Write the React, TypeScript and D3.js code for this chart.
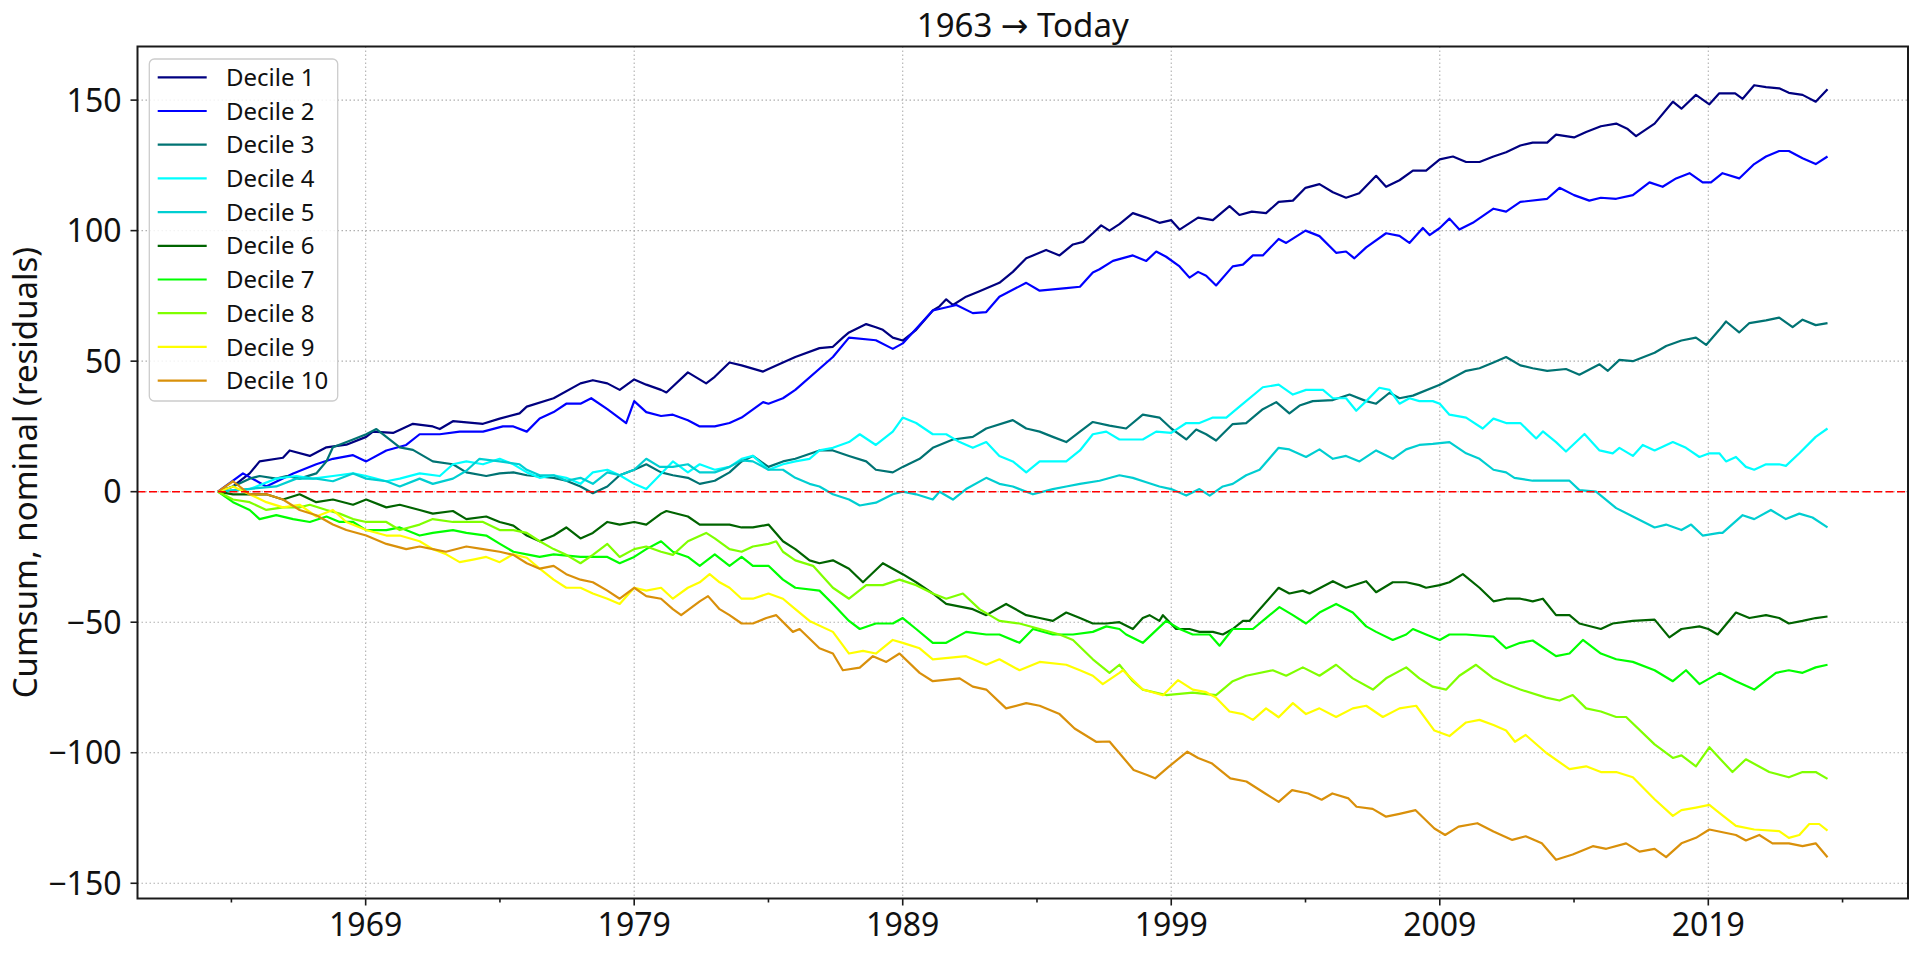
import * as d3 from "d3";

// readings, [year, cumsum]
const decile1 = [
  [1963.5, 0], [1964.06, 2], [1964.68, 7], [1965.05, 11.6], [1965.92, 13], [1966.17, 15.8], [1966.92, 13.7], [1967.54, 17], [1968.28, 18], [1969.02, 21], [1969.27, 23], [1970.02, 22.5], [1970.76, 26], [1971.5, 25], [1971.76, 24], [1972.25, 27], [1973.37, 26], [1973.99, 28], [1974.73, 30],
  [1975.0, 32.6], [1976.0, 35.8], [1977.0, 41.5], [1977.46, 42.7], [1978.0, 41.5], [1978.46, 39], [1979.0, 43], [1979.45, 41], [1980.0, 39], [1980.2, 38], [1981.0, 45.7], [1981.68, 41.5], [1982.0, 44], [1982.55, 49.5], [1983.0, 48.4], [1983.8, 46], [1984.0, 47], [1984.54, 49.5], [1985.0, 51.6],
  [1985.9, 55], [1986.4, 55.5], [1986.77, 59], [1987.0, 61], [1987.64, 64.2], [1988.0, 63], [1988.26, 62], [1988.63, 59], [1989.0, 57.9], [1989.5, 62], [1990.12, 69.4], [1990.37, 71], [1990.62, 73.7], [1990.87, 71.5], [1991.36, 74.7], [1991.86, 76.8], [1992.6, 80], [1993.1, 84.2], [1993.6, 89.4], [1993.85, 90.5], [1994.34, 92.6], [1994.84, 90.5], [1995.34, 94.7], [1995.72, 95.7], [1996.08, 99], [1996.39, 102], [1996.7, 100], [1997.07, 102.5],
  [1997.57, 106.7], [1998.07, 105], [1998.56, 103], [1999.0, 104], [1999.31, 100.4], [2000.0, 105], [2000.55, 104], [2001.17, 109.4], [2001.54, 106], [2002.0, 107.3], [2002.53, 106.7], [2003.0, 111], [2003.53, 111.5], [2004.0, 116.4], [2004.52, 117.8], [2005.02, 114.7], [2005.51, 112.6], [2006.0, 114.3], [2006.63, 121], [2007.0, 116.8], [2007.5, 119.3], [2008.0, 123],
  [2008.49, 123], [2009.0, 127.3], [2009.49, 128.4], [2009.98, 126.3], [2010.48, 126.3], [2011.0, 128.4], [2011.47, 130], [2012.0, 132.6], [2012.46, 133.7], [2013.0, 133.7], [2013.33, 136.8], [2014.0, 135.7], [2014.45, 137.8], [2015.0, 140], [2015.57, 141], [2016.0, 138.9], [2016.31, 136.2], [2017.0, 141], [2017.68, 149.4], [2018.0, 146.7], [2018.54, 152], [2019.04, 148.4],
  [2019.41, 152.6], [2020.0, 152.6], [2020.28, 150.5], [2020.71, 155.7], [2021.15, 155], [2021.64, 154.5], [2022.0, 152.8], [2022.51, 152], [2023.0, 149.4], [2023.44, 154.2],
];
const decile2 = [
  [1963.5, 0], [1964.43, 7], [1965.3, 2], [1966.3, 7], [1967.16, 10.5], [1967.78, 12.6], [1968.53, 14], [1969.02, 11.6], [1969.77, 15.8], [1970.51, 17.9], [1971.01, 22], [1971.76, 22], [1972.5, 23], [1973.37, 23], [1974.11, 25], [1974.5, 25],
  [1975.0, 23], [1975.48, 28], [1976.0, 30.5], [1976.47, 33.7], [1977.0, 33.7], [1977.4, 35.8], [1978.0, 31.6], [1978.7, 26.3], [1979.0, 34.7], [1979.45, 30.5], [1980.0, 29], [1980.44, 29.5], [1981.0, 27.4], [1981.44, 25], [1982.0, 25], [1982.55, 26.3], [1983.0, 28.4], [1983.8, 34.3], [1984.0, 33.7], [1984.54, 35.8], [1985.0, 39],
  [1986.4, 51.6], [1987.0, 59], [1988.0, 58], [1988.63, 54.7], [1989.0, 56.8], [1990.12, 69.4], [1991.0, 71.5], [1991.61, 68.4], [1992.11, 68.8], [1992.6, 74.7], [1993.6, 80], [1994.1, 77], [1995.09, 78], [1995.6, 78.5], [1996.08, 84], [1996.33, 85.2], [1996.83, 88.4],
  [1997.57, 90.5], [1998.07, 88.4], [1998.44, 92], [1998.81, 90], [1999.31, 86.3], [1999.68, 82], [2000.0, 84.2], [2000.3, 82.7], [2000.67, 79], [2001.29, 86.3], [2001.67, 87], [2002.04, 90.5], [2002.41, 90.5], [2003.0, 96.8], [2003.28, 95.3], [2004.0, 100], [2004.52, 97.9], [2005.14, 91.5], [2005.51, 92], [2005.82, 89.4], [2006.26, 93.6], [2007.0, 99], [2007.5, 98], [2007.87, 95.3],
  [2008.37, 101], [2008.62, 98.3], [2009.0, 101], [2009.36, 104.6], [2009.73, 100.4], [2010.23, 103], [2011.0, 108.4], [2011.47, 107.3], [2012.0, 111], [2013.0, 112.2], [2013.46, 116.4], [2014.0, 113.6], [2014.57, 111.5], [2015.0, 112.6], [2015.57, 112.2], [2016.19, 113.6], [2016.81, 118.5], [2017.3, 116.8], [2017.8, 120], [2018.3, 122], [2018.79, 118.5], [2019.1, 118.5],
  [2019.53, 122], [2020.15, 120], [2020.71, 125.5], [2021.15, 128.4], [2021.64, 130.5], [2022.0, 130.5], [2022.51, 127.7], [2023.0, 125.5], [2023.44, 128.4],
];
const decile3 = [
  [1963.5, 0], [1964.06, 2], [1964.68, 5], [1965.05, 6], [1965.67, 5], [1966.05, 6], [1966.54, 5], [1967.16, 7], [1967.54, 11.6], [1967.78, 17], [1968.53, 20], [1969.02, 22], [1969.4, 24], [1970.27, 17], [1970.76, 16], [1971.5, 11.6], [1972.25, 10.5], [1972.75, 7.4], [1973.49, 6], [1973.99, 7], [1974.5, 7.4],
  [1975.0, 6.3], [1976.0, 5.3], [1976.47, 4.2], [1977.0, 2], [1977.46, -0.6], [1978.0, 2], [1978.46, 6.3], [1979.0, 8.4], [1979.45, 10.5], [1980.0, 7.4], [1980.44, 6.3], [1981.0, 5.3], [1981.44, 3], [1982.0, 4.2], [1982.55, 7.4], [1983.0, 11.6], [1983.42, 13.7], [1984.0, 9.5], [1984.54, 11.6], [1985.0, 12.6],
  [1985.9, 15.8], [1986.4, 15.8], [1987.0, 13.7], [1987.64, 11.6], [1988.0, 8.4], [1988.63, 7.4], [1989.0, 9.5], [1989.63, 12.6], [1990.12, 16.8], [1990.87, 20], [1991.61, 21], [1992.11, 24.2], [1993.1, 27.4], [1993.6, 24.2], [1994.1, 23], [1994.59, 21], [1995.09, 19], [1995.6, 23], [1996.08, 26.7], [1996.7, 25.3],
  [1997.32, 24.2], [1997.94, 29.5], [1998.56, 28.4], [1999.0, 24.2], [1999.56, 20], [1999.93, 23.8], [2000.3, 22], [2000.67, 19.6], [2001.29, 25.9], [2001.79, 26.3], [2002.41, 31.6], [2002.91, 34.3], [2003.4, 30], [2003.78, 33], [2004.27, 34.7], [2005.02, 35.1], [2005.64, 37.2], [2006.26, 34.7], [2006.63, 33.7], [2007.13, 37.9], [2007.5, 35.8], [2008.0, 36.8],
  [2009.0, 41], [2009.98, 46.3], [2010.48, 47.3], [2011.0, 49.5], [2011.47, 51.6], [2012.0, 48.4], [2012.46, 47.3], [2013.0, 46.3], [2013.7, 47], [2014.2, 44.8], [2014.95, 48.8], [2015.26, 46.3], [2015.69, 50.5], [2016.19, 50], [2017.0, 53.2], [2017.43, 55.8], [2018.0, 57.9], [2018.54, 59], [2018.92, 56.2], [2019.41, 62],
  [2019.66, 65.2], [2020.15, 61], [2020.53, 64.6], [2021.15, 65.6], [2021.64, 66.7], [2022.14, 63], [2022.51, 65.9], [2023.0, 63.8], [2023.44, 64.6],
];
const decile4 = [
  [1963.5, 0], [1964.68, 1], [1965.67, 5], [1966.42, 6], [1967.04, 5], [1967.78, 6], [1968.53, 7], [1969.02, 6], [1969.77, 4], [1970.27, 5], [1971.01, 7], [1971.76, 6], [1972.25, 10.5], [1972.75, 11.6], [1973.37, 10.5], [1973.99, 12.6],
  [1974.5, 10.5], [1975.0, 7.4], [1975.48, 5.3], [1976.0, 6.3], [1976.47, 5.3], [1977.0, 3], [1977.46, 7.4], [1978.0, 8.4], [1978.46, 6.3], [1979.0, 3], [1979.45, 1], [1979.95, 6.3], [1980.44, 11.6], [1981.0, 7.4], [1981.44, 10.5], [1982.0, 8.4], [1982.55, 9.5], [1983.0, 12.6], [1983.42, 13.7], [1984.0, 8.4], [1984.54, 10.5], [1985.0, 11.6], [1985.53, 12.6],
  [1985.9, 15.8], [1986.4, 16.8], [1987.0, 19], [1987.4, 22], [1988.0, 17.9], [1988.63, 23], [1989.0, 28.4], [1989.5, 26.3], [1990.12, 22], [1990.62, 22], [1991.12, 19], [1991.61, 16.8], [1992.11, 19], [1992.6, 13.7], [1993.1, 11.6], [1993.6, 7.4], [1994.1, 11.6], [1994.59, 11.6], [1995.09, 11.6], [1995.6, 15.8], [1996.08, 22], [1996.58, 23], [1997.07, 20],
  [1997.94, 20], [1998.44, 23], [1999.0, 22.5], [1999.56, 26.3], [2000.05, 26.3], [2000.55, 28.4], [2001.05, 28.4], [2001.54, 32.6], [2002.41, 40], [2003.0, 41], [2003.53, 37.2], [2004.02, 39], [2004.65, 39], [2005.02, 35.8], [2005.51, 35.8], [2005.89, 31], [2006.26, 34.7], [2006.75, 39.8], [2007.13, 39], [2007.5, 33.7], [2007.87, 35.8], [2008.24, 34.7],
  [2008.74, 34.7], [2009.0, 33.7], [2009.36, 29.5], [2009.98, 28.4], [2010.6, 24.2], [2011.0, 28], [2011.47, 26.3], [2012.0, 26.3], [2012.59, 20.4], [2012.84, 23.1], [2013.33, 19], [2013.7, 15.4], [2014.39, 22.1], [2014.95, 15.8], [2015.44, 14.7], [2015.69, 16.8], [2016.19, 13.7], [2016.56, 17.9], [2017.0, 15.8], [2017.68, 19], [2018.17, 16.8], [2018.67, 13.3], [2019.04, 14.7], [2019.41, 14.7],
  [2019.66, 11.6], [2020.03, 13.3], [2020.4, 9.5], [2020.71, 8.4], [2021.15, 10.5], [2021.64, 10.5], [2021.89, 9.9], [2022.39, 14.7], [2023.0, 21], [2023.44, 24.2],
];
const decile5 = [
  [1963.5, 0], [1965.67, 2], [1966.42, 5], [1967.16, 5], [1967.78, 4], [1968.53, 7], [1969.02, 5], [1969.77, 4], [1970.27, 2], [1971.01, 5], [1971.5, 3], [1972.25, 5], [1972.75, 8], [1973.24, 12.6], [1973.99, 11.6], [1974.73, 10.5],
  [1975.0, 8.4], [1975.48, 6.3], [1976.0, 6.3], [1976.47, 4.2], [1977.0, 5.3], [1977.46, 3], [1978.0, 7.4], [1978.46, 6.3], [1979.0, 8.4], [1979.45, 12.6], [1979.95, 9.5], [1980.44, 9.5], [1981.0, 10.5], [1981.44, 7.4], [1982.0, 7.4], [1982.55, 9.5], [1983.0, 12], [1983.42, 11.6], [1984.0, 8.4], [1984.54, 8.4], [1985.0, 5.3], [1985.53, 3],
  [1985.9, 2], [1986.4, -1], [1987.0, -3], [1987.4, -5.3], [1988.0, -4.2], [1988.63, -1], [1989.0, 0], [1989.5, -1], [1990.12, -3], [1990.37, 0], [1990.87, -3], [1991.36, 1], [1992.11, 5.3], [1992.6, 3], [1993.1, 2], [1993.85, -1], [1994.59, 1], [1995.09, 2], [1995.6, 3], [1996.33, 4.2], [1997.07, 6.3],
  [1997.57, 5.3], [1998.07, 3.6], [1998.56, 2], [1999.0, 1], [1999.56, -1.5], [2000.05, 1], [2000.43, -1.5], [2000.92, 2], [2001.29, 3], [2001.79, 6.3], [2002.29, 8.4], [2003.0, 16.8], [2003.4, 16.2], [2004.02, 13.3], [2004.52, 16.2], [2005.02, 12.6], [2005.51, 13.7], [2006.01, 11.6], [2006.63, 15.8], [2007.25, 12.6], [2007.75, 16.2], [2008.24, 17.9],
  [2008.74, 18.3], [2009.36, 19], [2009.98, 14.7], [2010.48, 12.6], [2011.0, 8.4], [2011.47, 7.4], [2011.78, 5.3], [2012.46, 4.2], [2013.0, 4.2], [2013.83, 4.2], [2014.2, 0.6], [2014.82, 0], [2015.57, -6.3], [2016.19, -9.5], [2017.0, -13.7], [2017.43, -12.6], [2018.0, -14.7], [2018.36, -12.6], [2018.79, -16.8], [2019.41, -15.8],
  [2019.53, -15.8], [2020.28, -9], [2020.71, -10.5], [2021.33, -7], [2021.89, -10.5], [2022.39, -8.4], [2022.88, -9.9], [2023.44, -13.7],
];
const decile6 = [
  [1963.5, 0], [1964.06, -1], [1965.3, -1], [1965.92, -3], [1966.54, -1], [1967.16, -4], [1967.78, -3], [1968.53, -5], [1969.02, -3], [1969.77, -6], [1970.27, -5], [1971.01, -7], [1971.5, -8.4], [1972.25, -7.4], [1972.75, -10.5], [1973.49, -9.5], [1973.99, -11.6], [1974.5, -13],
  [1975.0, -16.8], [1975.48, -19], [1976.0, -16.8], [1976.47, -13.7], [1977.0, -17.9], [1977.46, -15.8], [1978.0, -11.6], [1978.46, -12.6], [1979.0, -11.6], [1979.45, -12.6], [1980.0, -8.4], [1980.2, -7.4], [1981.0, -9.5], [1981.44, -12.6], [1982.0, -12.6], [1982.55, -12.6], [1983.0, -13.7], [1983.42, -13.7], [1984.0, -12.6], [1984.54, -19], [1985.0, -22], [1985.53, -26.3], [1985.9, -27.4],
  [1986.4, -26.3], [1987.0, -29.5], [1987.52, -34.7], [1988.26, -27.4], [1989.0, -31.6], [1989.5, -34.7], [1990.12, -39], [1990.62, -43], [1991.61, -45], [1992.11, -47.3], [1992.85, -43], [1993.6, -47.3], [1994.1, -48.4], [1994.59, -49.5], [1995.09, -46.3], [1995.6, -48.4], [1996.08, -50.5], [1996.58, -50.5], [1997.07, -50],
  [1997.57, -52.6], [1997.94, -48.4], [1998.19, -47.3], [1998.56, -49.5], [1998.69, -47.3], [1999.18, -52.6], [1999.68, -52.6], [2000.05, -53.7], [2000.55, -53.7], [2000.92, -54.7], [2001.29, -52.6], [2001.67, -49.5], [2001.91, -49.5], [2003.0, -36.8], [2003.4, -39], [2003.9, -37.9], [2004.15, -39], [2005.02, -34.3], [2005.51, -36.8], [2006.26, -34.3], [2006.63, -38.5], [2007.25, -34.7], [2007.75, -34.7], [2008.24, -35.8],
  [2008.49, -36.8], [2009.0, -35.8], [2009.36, -34.7], [2009.86, -31.6], [2010.48, -36.8], [2011.0, -42], [2011.47, -41], [2012.0, -41], [2012.46, -42], [2012.84, -41], [2013.33, -47.3], [2013.83, -47.3], [2014.2, -50.5], [2015.0, -52.6], [2015.44, -50.5], [2016.19, -49.5], [2017.0, -49], [2017.55, -55.8], [2018.0, -52.6], [2018.67, -51.6], [2019.0, -52.6], [2019.35, -54.7],
  [2020.03, -46.3], [2020.53, -48.4], [2021.15, -47.3], [2021.64, -48.4], [2022.0, -50.5], [2022.51, -49.5], [2023.0, -48.4], [2023.44, -47.8],
];
const decile7 = [
  [1963.5, 0], [1964.06, -4], [1964.68, -7], [1965.05, -10.5], [1965.67, -9], [1966.3, -10.5], [1966.92, -11.6], [1967.54, -9.5], [1968.03, -11.6], [1968.53, -11.6], [1969.02, -14.7], [1969.77, -14.7], [1970.27, -13.7], [1971.01, -16.8], [1971.5, -15.8], [1972.25, -14.7], [1972.75, -15.8], [1973.49, -16.8],
  [1974.0, -20], [1974.5, -23], [1975.0, -24], [1975.48, -25], [1976.0, -24], [1977.0, -25], [1978.0, -25], [1978.46, -27.4], [1979.0, -25], [1979.45, -22], [1980.0, -19], [1980.44, -23], [1981.0, -25], [1981.44, -28.4], [1982.0, -24], [1982.55, -28.4], [1983.0, -25], [1983.42, -28.4], [1984.0, -28.4], [1984.54, -33.7], [1985.0, -36.8],
  [1985.9, -37.9], [1986.4, -43], [1987.0, -49.5], [1987.4, -52.6], [1988.0, -50.5], [1988.63, -50.5], [1989.0, -48.4], [1989.5, -52.6], [1990.12, -57.9], [1990.62, -57.9], [1991.36, -53.7], [1992.11, -54.7], [1992.6, -54.7], [1993.35, -57.9], [1993.85, -52.6], [1994.59, -54.7], [1995.34, -54.7], [1996.08, -53.7], [1996.58, -51.6], [1997.07, -52.6],
  [1997.32, -54.7], [1997.94, -57.9], [1998.81, -49.5], [1999.31, -52.6], [1999.8, -54.7], [2000.43, -54.7], [2000.8, -59], [2001.29, -52.6], [2002.04, -52.6], [2002.53, -48.4], [2003.03, -44.2], [2003.53, -47.3], [2004.02, -50.5], [2004.52, -46.3], [2005.14, -43], [2005.76, -46.3], [2006.26, -51.6], [2006.63, -53.7], [2007.25, -56.8], [2007.75, -54.7], [2008.0, -52.6],
  [2008.49, -54.7], [2009.0, -56.8], [2009.36, -54.7], [2009.98, -54.7], [2011.0, -55.5], [2011.47, -60], [2012.0, -57.9], [2012.46, -57], [2013.33, -63], [2013.83, -62], [2014.33, -56.8], [2015.0, -62], [2015.57, -64.2], [2016.19, -65.2], [2017.0, -68.4], [2017.68, -72.6], [2018.17, -68.4], [2018.67, -73.7], [2019.41, -69.4],
  [2020.03, -72.6], [2020.71, -75.8], [2021.52, -69.4], [2022.0, -68.4], [2022.51, -69.4], [2023.0, -67.3], [2023.44, -66.3],
];
const decile8 = [
  [1963.5, 0], [1964.06, -3], [1964.68, -4], [1965.3, -7], [1965.92, -6], [1966.54, -6], [1966.92, -5], [1967.54, -7], [1968.03, -8.4], [1968.53, -10.5], [1969.02, -11.6], [1969.77, -11.6], [1970.27, -14.7], [1971.01, -12.6], [1971.5, -10.5], [1972.25, -11.6], [1972.75, -11.6], [1973.37, -11.6], [1973.99, -14.7],
  [1974.5, -14.7], [1975.0, -15.8], [1975.48, -19], [1976.0, -22], [1976.47, -24.2], [1977.0, -27.4], [1977.46, -24.2], [1978.0, -20], [1978.46, -25], [1979.0, -22], [1979.45, -21], [1980.0, -23], [1980.44, -24.2], [1981.0, -19], [1981.68, -15.8], [1982.0, -17.9], [1982.55, -22], [1983.0, -23], [1983.42, -21], [1984.0, -20], [1984.29, -19], [1984.54, -23], [1985.0, -26.3],
  [1985.66, -28.4], [1986.4, -36.8], [1987.0, -41], [1987.64, -35.8], [1988.26, -35.8], [1988.88, -33.7], [1989.5, -35.8], [1990.12, -39], [1990.62, -41], [1991.24, -39], [1991.86, -45], [1992.6, -49.5], [1993.35, -50.5], [1994.1, -52.6], [1994.84, -54.7], [1995.34, -56.8], [1996.08, -64.2], [1996.7, -69.4], [1997.07, -66.3],
  [1997.57, -72.6], [1997.94, -75.8], [1998.81, -77.9], [1999.8, -77], [2000.67, -77.9], [2001.29, -72.6], [2001.79, -70.5], [2002.78, -68.4], [2003.28, -70.5], [2003.9, -67.3], [2004.52, -70.5], [2005.14, -66.3], [2005.76, -71.5], [2006.51, -75.8], [2007.0, -71.5], [2007.75, -67.3], [2008.24, -71.5],
  [2008.74, -74.7], [2009.24, -75.8], [2009.73, -70.5], [2010.35, -66.3], [2011.0, -71.5], [2011.47, -73.7], [2012.0, -75.8], [2012.96, -78.9], [2013.46, -80], [2013.95, -77.9], [2014.45, -83], [2015.0, -84.2], [2015.57, -86.3], [2015.94, -86.3], [2017.0, -96.8], [2017.68, -102], [2018.0, -101], [2018.54, -105.2], [2019.04, -97.9], [2019.41, -102],
  [2019.9, -107.4], [2020.4, -102.5], [2021.27, -107.4], [2022.0, -109.4], [2022.51, -107.4], [2023.0, -107.4], [2023.44, -110],
];
const decile9 = [
  [1963.5, 0], [1964.06, 2], [1964.68, -1], [1965.3, -4], [1965.92, -6], [1966.54, -5], [1967.16, -9.5], [1967.78, -7], [1968.28, -11.6], [1969.02, -14.7], [1969.77, -16.8], [1970.27, -16.8], [1971.01, -19], [1971.5, -22], [1972.0, -24], [1972.5, -27], [1973.0, -26], [1973.49, -25], [1973.99, -27], [1974.49, -24],
  [1975.0, -25.3], [1975.48, -29.5], [1976.0, -33.7], [1976.47, -36.8], [1977.0, -36.8], [1977.46, -39], [1978.0, -41], [1978.46, -43], [1979.0, -36.8], [1979.45, -37.9], [1980.0, -36.8], [1980.44, -41], [1981.0, -36.8], [1981.44, -34.7], [1981.81, -31.6], [1982.18, -34.7], [1982.55, -36.8], [1983.0, -41], [1983.42, -41], [1984.0, -39], [1984.54, -41], [1985.0, -45], [1985.53, -49.5],
  [1986.4, -53.7], [1987.0, -62], [1987.52, -61], [1988.0, -62], [1988.63, -56.8], [1989.0, -57.9], [1989.63, -60], [1990.12, -64.2], [1991.36, -63], [1992.11, -66.3], [1992.6, -64.2], [1993.35, -68.4], [1994.1, -65.2], [1995.09, -66.3], [1995.6, -68.4], [1996.08, -70.5], [1996.45, -73.7], [1997.07, -69.4],
  [1997.2, -68.4], [1997.94, -75.8], [1998.69, -78], [1999.25, -72.2], [1999.8, -75.8], [2000.3, -76.8], [2000.67, -78.9], [2001.17, -84.2], [2001.67, -85.2], [2002.04, -87.4], [2002.53, -83], [2003.0, -86.4], [2003.53, -81], [2004.02, -85.2], [2004.52, -83], [2005.14, -86.3], [2005.76, -83], [2006.26, -82], [2006.88, -86.3], [2007.5, -83], [2008.12, -82],
  [2008.8, -91.5], [2009.36, -93.6], [2009.98, -88.4], [2010.48, -87.4], [2011.0, -89.4], [2011.47, -91.5], [2011.8, -95.8], [2012.2, -93.2], [2012.96, -100], [2013.83, -106.3], [2014.45, -105.2], [2015.0, -107.4], [2015.57, -107.4], [2016.19, -109.4], [2017.0, -117.8], [2017.68, -124.2], [2018.0, -122], [2018.54, -121], [2019.04, -120], [2019.41, -123],
  [2020.03, -128], [2020.71, -129.4], [2021.64, -130], [2022.0, -132.6], [2022.39, -131.5], [2022.76, -127.3], [2023.13, -127.3], [2023.44, -129.8],
];
const decile10 = [
  [1963.5, 0], [1964.06, 4], [1964.68, -1], [1965.3, -1], [1965.92, -3], [1966.54, -7], [1967.16, -9], [1967.78, -12.6], [1968.28, -14.7], [1969.02, -16.8], [1969.77, -20], [1970.51, -22], [1971.01, -21], [1971.5, -22], [1971.99, -23], [1972.75, -21], [1973.37, -22], [1973.99, -23], [1974.5, -24.2],
  [1975.0, -27.4], [1975.48, -29.5], [1976.0, -28.4], [1976.47, -31.6], [1977.0, -33.7], [1977.46, -34.7], [1978.0, -37.9], [1978.46, -41], [1979.0, -36.8], [1979.45, -40], [1980.0, -41], [1980.44, -45], [1980.75, -47.3], [1981.44, -42], [1981.75, -40], [1982.18, -45], [1982.55, -47.3], [1983.0, -50.5], [1983.42, -50.5], [1983.92, -48.4], [1984.29, -47.3], [1984.91, -53.7],
  [1985.16, -52.6], [1985.9, -60], [1986.4, -62], [1986.77, -68.4], [1987.4, -67.4], [1987.89, -63], [1988.39, -65.2], [1988.88, -62], [1989.63, -69.4], [1990.12, -72.6], [1991.12, -71.5], [1991.61, -74.7], [1992.11, -75.8], [1992.85, -83], [1993.6, -81], [1994.1, -82], [1994.84, -85.2], [1995.4, -90.7], [1996.2, -95.8], [1996.7, -95.7],
  [1997.6, -106.6], [1998.1, -108.5], [1998.4, -109.8], [1998.9, -105.4], [1999.6, -99.6], [2000.0, -102], [2000.5, -104], [2001.2, -109.8], [2001.8, -111], [2002.5, -115.6], [2003.0, -118.8], [2003.5, -114.3], [2004.1, -115.6], [2004.6, -118], [2005.0, -115.6], [2005.6, -117.5], [2005.9, -120.7], [2006.5, -121.5], [2007.0, -124.5], [2007.5, -123.4], [2008.1, -122], [2008.8, -129], [2009.2, -131.5], [2009.7, -128.3], [2010.4, -127], [2011.0, -130.2], [2011.7, -133.4], [2012.2, -132], [2012.8, -134.7], [2013.33, -141],
  [2013.95, -139], [2014.7, -135.8], [2015.2, -136.8], [2015.94, -134.7], [2016.44, -137.9], [2017.0, -136.8], [2017.43, -140], [2018.0, -134.7], [2018.54, -132.6], [2019.04, -129.4],
  [2020.03, -131.5], [2020.4, -133.6], [2020.9, -131.5], [2021.39, -134.7], [2022.0, -134.7], [2022.51, -135.8], [2023.0, -134.7], [2023.44, -140],
];

const series = [decile1, decile2, decile3, decile4, decile5, decile6, decile7, decile8, decile9, decile10];
const labels = ["Decile 1", "Decile 2", "Decile 3", "Decile 4", "Decile 5", "Decile 6", "Decile 7", "Decile 8", "Decile 9", "Decile 10"];
const colors = ["#000080", "#0000ff", "#007373", "#00ffff", "#00ced1", "#006400", "#00ff00", "#7fff00", "#ffff00", "#d9900a"];

const xMajor = [1969, 1979, 1989, 1999, 2009, 2019];
const xMinor = [1964, 1974, 1984, 1994, 2004, 2014, 2024];
const yTicks = [-150, -100, -50, 0, 50, 100, 150];

const W = 1920;
const H = 954;
const left = 137.5;
const right = 1908;
const top = 46.5;
const bottom = 898.5;
const font = "'Noto Sans', 'DejaVu Sans', sans-serif";

export default function App() {
  const all = series.flat();
  const [x0, x1] = d3.extent(all, (d) => d[0]);
  const [y0, y1] = d3.extent(all, (d) => d[1]);
  const px = (x1 - x0) * 0.05;
  const py = (y1 - y0) * 0.05;
  const x = d3.scaleLinear([x0 - px, x1 + px], [left, right]);
  const y = d3.scaleLinear([y0 - py, y1 + py], [bottom, top]);
  const line = d3.line((d) => x(d[0]), (d) => y(d[1]));

  const fmt = (v) => (v < 0 ? "\u2212" + Math.abs(v) : String(v));

  return (
    <svg width={W} height={H} style={{ position: "absolute", left: 0, top: 0, display: "block", background: "#fff" }} fontFamily={font}>
      <rect width={W} height={H} fill="#fff" />
      {/* grid */}
      <g stroke="#b0b0b0" strokeWidth={1.1} strokeDasharray="1.5,2.5">
        {xMajor.map((t) => (
          <line key={"gx" + t} x1={x(t)} x2={x(t)} y1={top} y2={bottom} />
        ))}
        {yTicks.map((t) => (
          <line key={"gy" + t} x1={left} x2={right} y1={y(t)} y2={y(t)} />
        ))}
      </g>

      {series.map((s, i) => (
        <path key={labels[i]} d={line(s)} fill="none" stroke={colors[i]} strokeWidth={2.2} strokeLinejoin="round" />
      ))}

      <line x1={left} x2={right} y1={y(0)} y2={y(0)} stroke="#ff0000" strokeWidth={1.6} strokeDasharray="8,3.5" />

      {/* spines */}
      <rect x={left} y={top} width={right - left} height={bottom - top} fill="none" stroke="#1a1a1a" strokeWidth={2} />

      {/* ticks */}
      <g stroke="#1a1a1a" strokeWidth={1.6}>
        {xMajor.map((t) => (
          <line key={"tx" + t} x1={x(t)} x2={x(t)} y1={bottom} y2={bottom + 7} />
        ))}
        {xMinor.map((t) => (
          <line key={"mx" + t} x1={x(t)} x2={x(t)} y1={bottom} y2={bottom + 4} />
        ))}
        {yTicks.map((t) => (
          <line key={"ty" + t} x1={left - 7} x2={left} y1={y(t)} y2={y(t)} />
        ))}
      </g>
      <g fontSize={32} fill="#111">
        {xMajor.map((t) => (
          <text key={"lx" + t} x={x(t)} y={936} textAnchor="middle">{t}</text>
        ))}
        {yTicks.map((t) => (
          <text key={"ly" + t} x={left - 16} y={y(t)} dy="0.36em" textAnchor="end">{fmt(t)}</text>
        ))}
      </g>

      <text x={(left + right) / 2} y={37} textAnchor="middle" fontSize={33} fill="#111">1963 → Today</text>
      <text transform={`translate(37, ${(top + bottom) / 2}) rotate(-90)`} textAnchor="middle" fontSize={33} fill="#111">
        Cumsum, nominal (residuals)
      </text>

      {/* legend */}
      <g>
        <rect x={149.3} y={59} width={188.4} height={342} rx={5} fill="#fff" fillOpacity={0.85} stroke="#cccccc" strokeWidth={1.3} />
        {labels.map((l, i) => {
          const ly = 77.3 + i * 33.7;
          return (
            <g key={"lg" + l}>
              <line x1={157.7} x2={206.7} y1={ly} y2={ly} stroke={colors[i]} strokeWidth={2.2} />
              <text x={226} y={ly + 8.6} fontSize={24} fill="#111">{l}</text>
            </g>
          );
        })}
      </g>
    </svg>
  );
}
